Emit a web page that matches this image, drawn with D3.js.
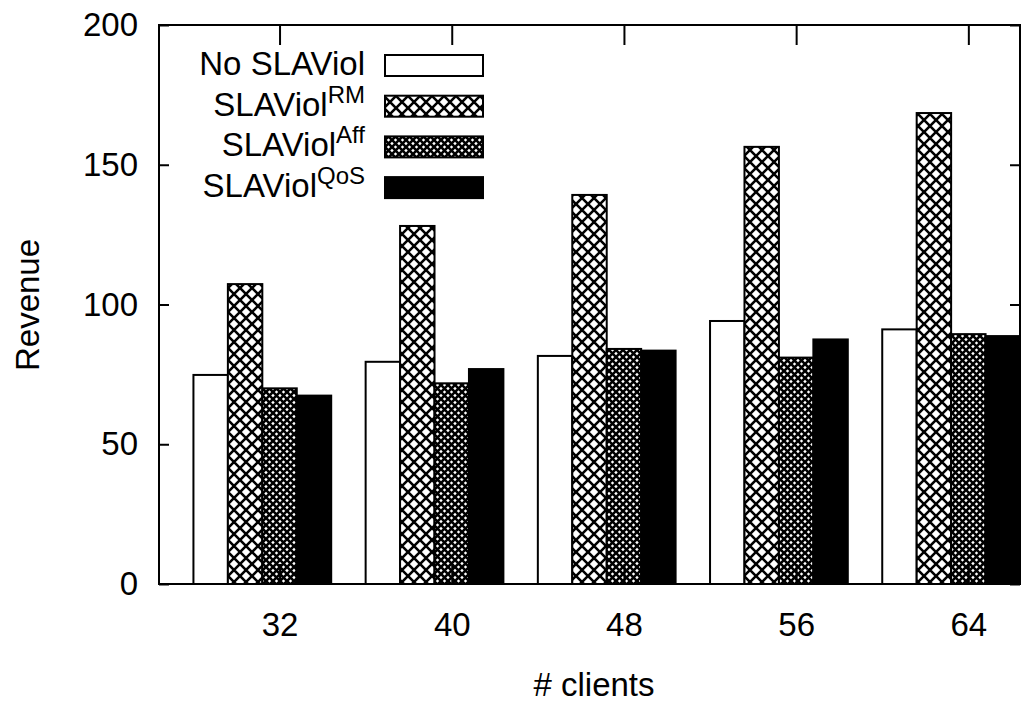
<!DOCTYPE html>
<html>
<head>
<meta charset="utf-8">
<script src="https://cdn.jsdelivr.net/npm/d3@7"></script>
<style>
  html, body { margin: 0; padding: 0; background: #fff; }
  svg { display: block; font-family: 'Liberation Sans', Arial, Helvetica, sans-serif; }
</style>
</head>
<body>
<div id="chart"></div>
<script>
// data
const categories = ['32', '40', '48', '56', '64'];
const seriesNames = ['No SLAViol', 'SLAViol', 'SLAViol', 'SLAViol'];
const seriesSup = ['', 'RM', 'Aff', 'QoS'];
const noSlaViol = [74.8, 79.5, 81.6, 94.1, 91.1];
const slaViolRM = [107.3, 128.1, 139.2, 156.4, 168.5];
const slaViolAff = [70.0, 71.8, 84.1, 81.0, 89.4];
const slaViolQoS = [67.4, 76.9, 83.5, 87.5, 88.7];
const yTicks = [0, 50, 100, 150, 200];

const series = [noSlaViol, slaViolRM, slaViolAff, slaViolQoS];
const fills = ['#ffffff', 'url(#hatchRM)', 'url(#hatchAff)', '#000000'];

const WIDTH = 1022;
const HEIGHT = 704;
const FONT = '33px';
const SUP_FONT = '24px';
const BAR = 0.2; // bar width in group units (4 bars + 1 gap)

const svg = d3.select('#chart')
  .append('svg')
  .attr('width', WIDTH)
  .attr('height', HEIGHT);

// hatch patterns
const defs = svg.append('defs');
function hatch(id, p, w) {
  const pat = defs.append('pattern')
    .attr('id', id)
    .attr('patternUnits', 'userSpaceOnUse')
    .attr('width', p)
    .attr('height', p);
  pat.append('rect').attr('width', p).attr('height', p).attr('fill', '#fff');
  pat.append('path')
    .attr('d', `M0,0L${p},${p}M${p},0L0,${p}`)
    .attr('stroke', '#000')
    .attr('stroke-width', w)
    .attr('fill', 'none');
}
hatch('hatchRM', 12, 2.6);
hatch('hatchAff', 7, 2.6);

const xScale = d3.scaleLinear().domain([-0.7, 4.3]).range([159, 1020]);
const yScale = d3.scaleLinear().domain([0, 200]).range([584, 25]);

// bars
series.forEach((vals, j) => {
  svg.append('g')
    .selectAll('rect')
    .data(vals)
    .join('rect')
    .attr('x', (d, i) => xScale(i - 0.5 + BAR * j))
    .attr('y', (d) => yScale(d))
    .attr('width', xScale(BAR) - xScale(0))
    .attr('height', (d) => yScale(0) - yScale(d))
    .attr('fill', fills[j])
    .attr('stroke', '#000')
    .attr('stroke-width', 2);
});

// x axis (ticks point inward)
const xAxis = svg.append('g')
  .attr('transform', `translate(0,${yScale(0)})`)
  .call(d3.axisBottom(xScale)
    .tickValues(d3.range(categories.length))
    .tickFormat((i) => categories[i])
    .tickSize(-20));
xAxis.selectAll('text')
  .attr('y', 52)
  .attr('dy', null)
  .style('font-size', FONT)
  .attr('fill', '#000');

svg.append('g')
  .attr('transform', `translate(0,${yScale(200)})`)
  .call(d3.axisTop(xScale)
    .tickValues(d3.range(categories.length))
    .tickFormat('')
    .tickSize(-20));

// y axis, left with labels and mirrored on the right
const yAxis = svg.append('g')
  .attr('transform', `translate(${xScale.range()[0]},0)`)
  .call(d3.axisLeft(yScale).tickValues(yTicks).tickSize(-10).tickPadding(21));
yAxis.selectAll('text')
  .style('font-size', FONT)
  .attr('fill', '#000');

svg.append('g')
  .attr('transform', `translate(${xScale.range()[1]},0)`)
  .call(d3.axisRight(yScale).tickValues(yTicks).tickFormat('').tickSize(-10));

svg.selectAll('.domain').remove();
svg.selectAll('.tick line').attr('stroke', '#000').attr('stroke-width', 2);

// plot border
svg.append('rect')
  .attr('x', xScale.range()[0])
  .attr('y', yScale(200))
  .attr('width', xScale.range()[1] - xScale.range()[0])
  .attr('height', yScale(0) - yScale(200))
  .attr('fill', 'none')
  .attr('stroke', '#000')
  .attr('stroke-width', 2);

// axis titles
svg.append('text')
  .attr('x', 594)
  .attr('y', 696)
  .attr('text-anchor', 'middle')
  .style('font-size', FONT)
  .text('# clients');

svg.append('text')
  .attr('transform', 'translate(39,305) rotate(-90)')
  .attr('text-anchor', 'middle')
  .style('font-size', FONT)
  .text('Revenue');

// legend
const legend = svg.append('g');
seriesNames.forEach((name, j) => {
  const base = 75 + j * 40.7;
  const t = legend.append('text')
    .attr('x', 365)
    .attr('y', base)
    .attr('text-anchor', 'end')
    .style('font-size', FONT)
    .text(name);
  if (seriesSup[j]) {
    t.append('tspan')
      .attr('dy', -13)
      .style('font-size', SUP_FONT)
      .text(seriesSup[j]);
  }
  legend.append('rect')
    .attr('x', 385)
    .attr('y', base - 20)
    .attr('width', 98)
    .attr('height', 21)
    .attr('fill', fills[j])
    .attr('stroke', '#000')
    .attr('stroke-width', 2);
});
</script>
</body>
</html>
